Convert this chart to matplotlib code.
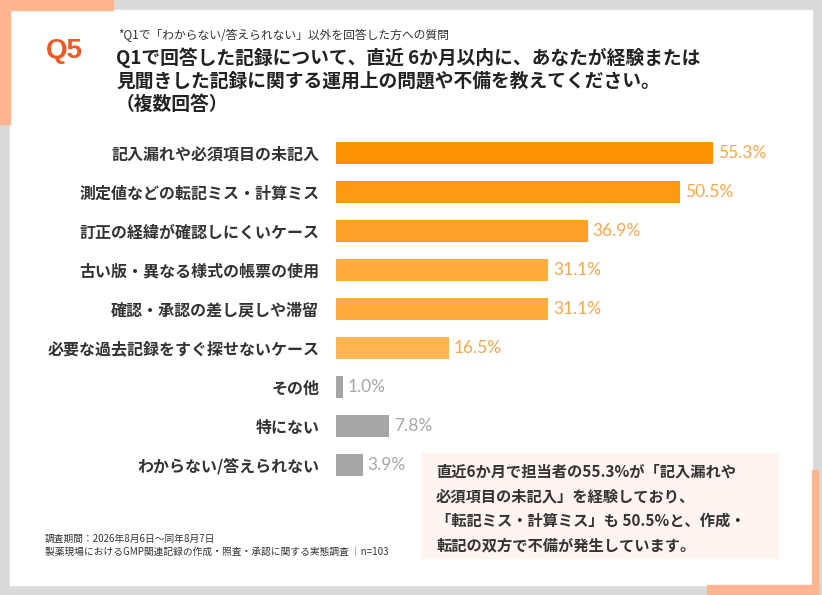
import matplotlib
matplotlib.use("Agg")
import matplotlib.pyplot as plt
from matplotlib.patches import Rectangle

plt.rcParams['font.family'] = ['Noto Sans CJK JP', 'DejaVu Sans']

# data
categories = [
    "記入漏れや必須項目の未記入",
    "測定値などの転記ミス・計算ミス",
    "訂正の経緯が確認しにくいケース",
    "古い版・異なる様式の帳票の使用",
    "確認・承認の差し戻しや滞留",
    "必要な過去記録をすぐ探せないケース",
    "その他",
    "特にない",
    "わからない/答えられない",
]
values = [55.3, 50.5, 36.9, 31.1, 31.1, 16.5, 1.0, 7.8, 3.9]
bar_colors = ["#fe9304", "#fe9a12", "#ffa026", "#ffab3e", "#ffab3e", "#ffb552",
              "#a6a6a6", "#a6a6a6", "#a6a6a6"]
label_colors = ["#f5a74c"] * 6 + ["#a6a6a6"] * 3

note_lines = [
    "直近6か月で担当者の55.3%が「記入漏れや",
    "必須項目の未記入」を経験しており、",
    "「転記ミス・計算ミス」も 50.5%と、作成・",
    "転記の双方で不備が発生しています。",
]

W, H = 822, 595
fig = plt.figure(figsize=(W / 100, H / 100), dpi=100)
fig.patch.set_facecolor("#d9d9d9")

# background layer in pixel coords
bg = fig.add_axes([0, 0, 1, 1])
bg.set_xlim(0, W)
bg.set_ylim(H, 0)
bg.axis("off")
bg.add_patch(Rectangle((0, 0), W, H, color="#d9d9d9", zorder=0))
bg.add_patch(Rectangle((10, 10), 802, 575, color="white", zorder=1))
acc = "#ffb690"
bg.add_patch(Rectangle((0, 0), 113, 10, color=acc, zorder=2))
bg.add_patch(Rectangle((0, 0), 10, 124, color=acc, zorder=2))
bg.add_patch(Rectangle((812, 470), 6, 125, color=acc, zorder=2))
bg.add_patch(Rectangle((707, 585), 111, 10, color=acc, zorder=2))

# header
bg.text(46, 51, "Q5", family="Liberation Sans", fontweight="bold", fontsize=20,
        color="#f05a22", va="center", ha="left", zorder=3)
bg.text(118, 35, "*Q1で「わからない/答えられない」以外を回答した方への質問",
        fontsize=8.5, color="#333333", va="center", zorder=3)
title_lines = ["Q1で回答した記録について、直近 6か月以内に、あなたが経験または",
               "見聞きした記録に関する運用上の問題や不備を教えてください。",
               "（複数回答）"]
for i, t in enumerate(title_lines):
    bg.text(116, 58 + i * 23, t, fontsize=13.5, fontweight="bold",
            color="#222222", va="center", zorder=3)

# footnote
bg.text(45, 539, "調査期間：2026年8月6日～同年8月7日", fontsize=7, color="#333333",
        va="center", zorder=3)
bg.text(45, 552, "製薬現場におけるGMP関連記録の作成・照査・承認に関する実態調査 │n=103",
        fontsize=7, color="#333333", va="center", zorder=3)

# note box
bg.add_patch(Rectangle((422, 453), 356, 105, color="#fff4f0", zorder=2))
for i, t in enumerate(note_lines):
    bg.text(436, 472 + i * 24.5, t, fontsize=11, fontweight="bold",
            color="#333333", va="center", zorder=3)

# bar chart
px = 6.82  # pixels per percent
x0 = 336
xmax = 70
top, step = 133.5, 39
ax = fig.add_axes([x0 / W, 1 - (top + step * len(values)) / H,
                   xmax * px / W, step * len(values) / H])
ax.set_facecolor("none")
ypos = list(range(len(values)))
ax.barh(ypos, values, height=0.56, color=bar_colors, zorder=3)
ax.set_xlim(0, xmax)
ax.set_ylim(len(values) - 0.5, -0.5)
for y, v, c in zip(ypos, values, label_colors):
    ax.text(v + 5 / px, y, f"{v:.1f}%", family="Lato", fontsize=12.5,
            color=c, va="center", ha="left")
ax.set_yticks(ypos)
ax.set_yticklabels(categories, fontsize=11.5, fontweight="bold", color="#333333")
ax.tick_params(axis="y", length=0, pad=12)
ax.set_xticks([])
for s in ax.spines.values():
    s.set_visible(False)

fig.savefig("out.png", dpi=100, facecolor=fig.get_facecolor())
